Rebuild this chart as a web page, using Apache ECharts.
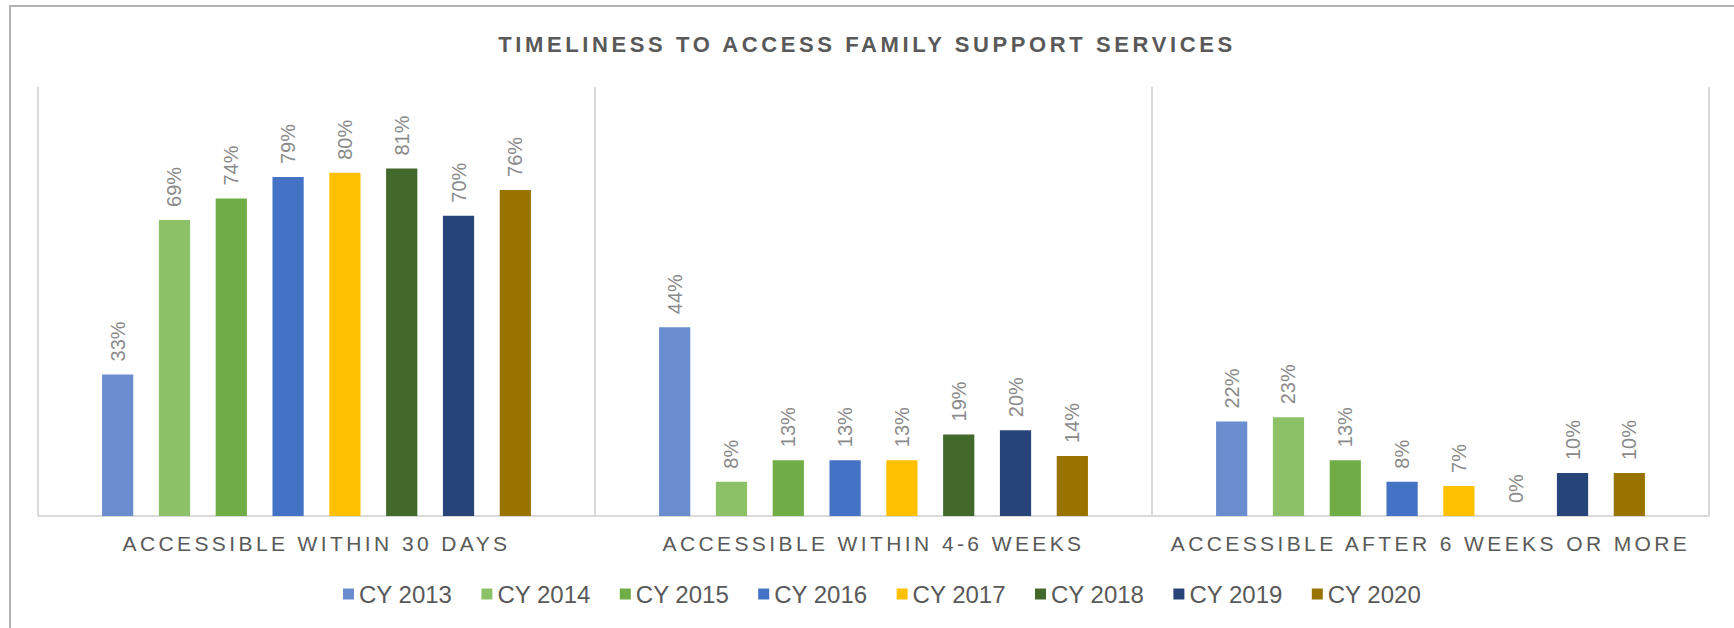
<!DOCTYPE html>
<html>
<head>
<meta charset="utf-8">
<script src="https://cdn.jsdelivr.net/npm/echarts@6.0.0/dist/echarts.min.js"></script>
<style>
  html, body { margin: 0; padding: 0; background: #fff; }
  #chart { width: 1734px; height: 628px; }
</style>
</head>
<body>
<div id="chart"></div>
<script>
// categories and series (values in %)
const categories = ['ACCESSIBLE WITHIN 30 DAYS', 'ACCESSIBLE WITHIN 4-6 WEEKS', 'ACCESSIBLE AFTER 6 WEEKS OR MORE'];
const years = ['CY 2013', 'CY 2014', 'CY 2015', 'CY 2016', 'CY 2017', 'CY 2018', 'CY 2019', 'CY 2020'];
const cy2013 = [33, 44, 22];
const cy2014 = [69, 8, 23];
const cy2015 = [74, 13, 13];
const cy2016 = [79, 13, 8];
const cy2017 = [80, 13, 7];
const cy2018 = [81, 19, 0];
const cy2019 = [70, 20, 10];
const cy2020 = [76, 14, 10];
const colors = ['#6a8dcf', '#8cc168', '#70ad47', '#4472c4', '#ffc000', '#43682b', '#264478', '#997300'];

const fontFam = '"Liberation Sans", Arial, sans-serif';
const allSeries = [cy2013, cy2014, cy2015, cy2016, cy2017, cy2018, cy2019, cy2020];

function buildSeries() {
  let arr = [];
  allSeries.forEach((data, i) => {
    arr.push({
      name: years[i],
      type: 'bar',
      data: data,
      barGap: '82%',
      barCategoryGap: '23%',
      itemStyle: { color: colors[i] },
      label: {
        show: true,
        position: 'top',
        rotate: 90,
        align: 'left',
        verticalAlign: 'middle',
        distance: 13,
        formatter: '{c}%',
        color: '#8a8a8a',
        fontSize: 20,
        fontFamily: fontFam
      }
    });
  });
  return arr;
}

const chart = echarts.init(document.getElementById('chart'), null, { renderer: 'svg' });
chart.setOption({
  animation: false,
  textStyle: { fontFamily: fontFam },
  title: {
    text: 'TIMELINESS TO ACCESS FAMILY SUPPORT SERVICES',
    left: 'center',
    top: 28,
    textStyle: { fontSize: 22, fontWeight: 'bold', color: '#595959', fontFamily: fontFam }
  },
  graphic: [{
    type: 'rect',
    shape: { x: 10, y: 6, width: 1800, height: 700 },
    style: { fill: 'none', stroke: '#b3b3b3', lineWidth: 2 },
    silent: true
  }],
  legend: {
    data: years,
    top: 577,
    left: 338,
    itemWidth: 11,
    itemHeight: 11,
    itemGap: 29,
    icon: 'rect',
    textStyle: { fontSize: 24, color: '#595959', fontFamily: fontFam }
  },
  grid: { left: 38, right: 25, top: 87, bottom: 112 },
  xAxis: {
    type: 'category',
    data: categories,
    axisLine: { lineStyle: { color: '#d9d9d9', width: 2 } },
    axisTick: { show: false },
    splitLine: { show: true, lineStyle: { color: '#d9d9d9', width: 2 } },
    axisLabel: { color: '#595959', fontSize: 21, margin: 17, fontFamily: fontFam }
  },
  yAxis: {
    type: 'value',
    min: 0,
    max: 100,
    show: false,
    splitLine: { show: false }
  },
  series: buildSeries()
});

// letter spacing as in the original (svg text)
function spaceText() {
  document.querySelectorAll('#chart text').forEach(t => {
    const s = t.textContent;
    if (categories.includes(s)) t.setAttribute('letter-spacing', '3.4px');
    else if (s.indexOf('TIMELINESS') === 0) t.setAttribute('letter-spacing', '3.6px');
  });
}
chart.getZr().flush();
spaceText();
chart.on('finished', spaceText);
</script>
</body>
</html>
